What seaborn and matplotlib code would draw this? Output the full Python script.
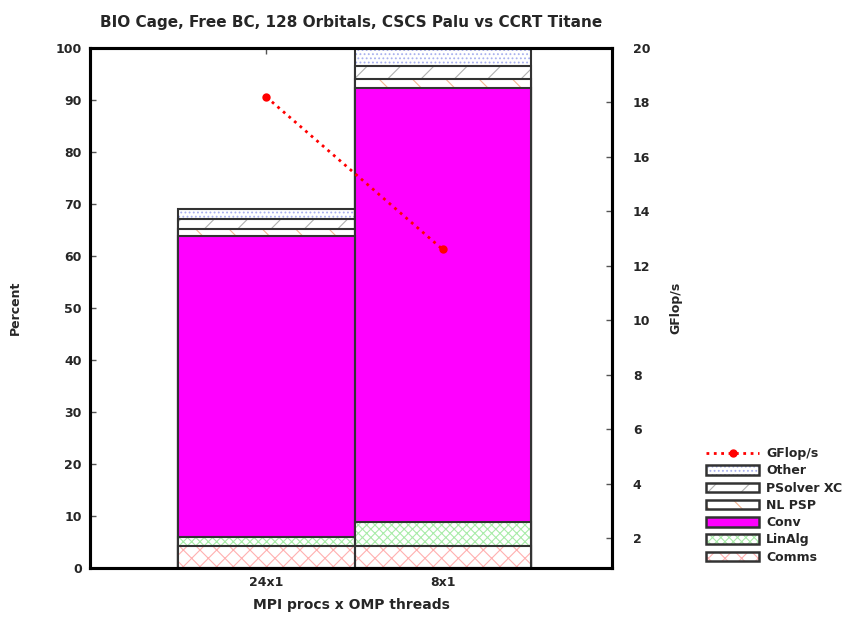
import numpy as np
import pandas as pd
import seaborn as sns
import matplotlib
matplotlib.use("Agg")
import matplotlib.pyplot as plt
from matplotlib.patches import Patch
from matplotlib.lines import Line2D

# ---- data ----
configs = ["24x1", "8x1"]
comms = [4.3, 4.3]
linalg = [1.7, 4.5]
conv = [57.8, 83.6]
nl_psp = [1.3, 1.6]
psolver_xc = [2.0, 2.5]
other = [1.9, 3.5]
gflops = [18.2, 12.6]

layer_names = ["Comms", "LinAlg", "Conv", "NL PSP", "PSolver XC", "Other"]
layer_values = [comms, linalg, conv, nl_psp, psolver_xc, other]
# (face colour, hatch colour, hatch)
layer_styles = {
    "Comms": ("white", "#ffb0b0", "xx"),
    "LinAlg": ("white", "#a8eca8", "xxxx"),
    "Conv": ("#ff00ff", "#ff00ff", None),
    "NL PSP": ("white", "#f4b590", "\\"),
    "PSolver XC": ("white", "#b0b0b0", "/"),
    "Other": ("white", "#a8b0ee", "...."),
}

sns.set_style("ticks")
plt.rcParams["font.family"] = ["DejaVu Sans"]
plt.rcParams["font.weight"] = "bold"
plt.rcParams["hatch.linewidth"] = 0.8

fig = plt.figure(figsize=(8.6, 6.19), dpi=100)
ax = fig.add_axes([90 / 860, 1 - 568 / 619, 522 / 860, 520 / 619])

cum = np.cumsum(np.array(layer_values), axis=0)
df = pd.DataFrame({"config": configs})

# draw cumulative stacks from the top layer downward
for i in range(len(layer_names) - 1, -1, -1):
    name = layer_names[i]
    fc, hc, hatch = layer_styles[name]
    df["top"] = cum[i]
    if hatch:
        sns.barplot(data=df, x="config", y="top", color=fc, edgecolor=hc,
                    hatch=hatch, linewidth=0, width=1.0, saturation=1,
                    errorbar=None, ax=ax)
    else:
        sns.barplot(data=df, x="config", y="top", color=fc, linewidth=0,
                    width=1.0, saturation=1, errorbar=None, ax=ax)
    sns.barplot(data=df, x="config", y="top", fill=False, color="#333333",
                linewidth=1.5, width=1.0, errorbar=None, ax=ax)

ax.set_ylim(0, 100)
ax.set_yticks(np.arange(0, 101, 10))

ax2 = ax.twinx()
gdf = pd.DataFrame({"config": configs, "gflops": gflops})
sns.pointplot(data=gdf, x="config", y="gflops", color="red", linestyles=":",
              markers="o", markersize=4.5, linewidth=2, errorbar=None, ax=ax2)
ax2.set_ylim(0.9, 20)
ax2.set_yticks(np.arange(2, 21, 2))
ax.set_xlim(-1.0, 1.96)

for a in (ax, ax2):
    for s in a.spines.values():
        s.set_linewidth(2.2)
        s.set_color("black")
        s.set_visible(True)
ax.tick_params(direction="in", length=4, width=1, color="#555555",
               labelsize=9, top=True, pad=6)
ax2.tick_params(direction="in", length=4, width=1, color="#555555",
                labelsize=9, pad=15)

ax.set_xlabel("MPI procs x OMP threads", fontsize=10, fontweight="bold",
              labelpad=6)
ax.set_ylabel("Percent", fontsize=9, fontweight="bold", labelpad=24)
ax2.set_ylabel("GFlop/s", fontsize=9, fontweight="bold", labelpad=14)
ax.set_title("BIO Cage, Free BC, 128 Orbitals, CSCS Palu vs CCRT Titane",
             fontsize=11, fontweight="bold", pad=15)

# legend
handles = [Line2D([], [], color="red", linestyle=":", linewidth=2,
                  marker="o", markersize=5)]
labels = ["GFlop/s"]
for name in ["Other", "PSolver XC", "NL PSP", "Conv", "LinAlg", "Comms"]:
    fc, hc, hatch = layer_styles[name]
    if hatch:
        h = (Patch(facecolor=fc, edgecolor=hc, hatch=hatch, linewidth=0),
             Patch(facecolor="none", edgecolor="#333333", linewidth=1.8))
    else:
        h = (Patch(facecolor=fc, edgecolor="#333333", linewidth=1.8),)
    handles.append(h)
    labels.append(name)
fig.legend(handles, labels, loc="upper left",
           bbox_to_anchor=(700 / 860, 1 - 441 / 619), frameon=False,
           fontsize=9, handlelength=4.2, handleheight=0.8,
           labelspacing=0.34, handletextpad=0.6, borderpad=0)

fig.savefig("out.png", dpi=100)
